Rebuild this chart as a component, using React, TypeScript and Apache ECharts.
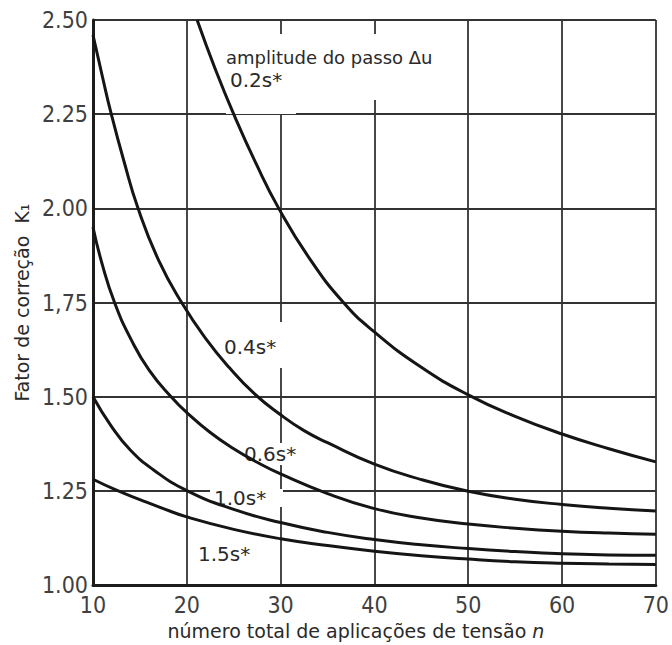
import React, { useEffect, useRef } from "react";
import * as echarts from "echarts";

// Axis ticks
const xTicks = [10, 20, 30, 40, 50, 60, 70];
const yTickLabels = ["1.00", "1.25", "1.50", "1,75", "2.00", "2.25", "2.50"];

// Correction factor K1 against total number of voltage applications n,
// one curve per step amplitude Δu
const step02: [number, number][] = [
  [21.1, 2.5], [23.0, 2.372], [25.0, 2.25], [27.4, 2.118], [29.8, 2.0],
  [33.0, 1.87], [36.7, 1.75], [40, 1.672], [45, 1.578], [50, 1.505],
  [55, 1.448], [60, 1.401], [65, 1.362], [70, 1.327],
];
const step04: [number, number][] = [
  [10, 2.46], [11, 2.35], [11.95, 2.25], [13.3, 2.125], [14.8, 2.0],
  [17, 1.862], [19.5, 1.748], [22, 1.655], [24.5, 1.578], [27.2, 1.508],
  [30, 1.452], [32.5, 1.41], [35, 1.378], [40, 1.321], [45, 1.28],
  [50, 1.249], [55, 1.228], [60, 1.214], [65, 1.204], [70, 1.197],
];
const step06: [number, number][] = [
  [10, 1.95], [11, 1.85], [12.3, 1.75], [14, 1.655], [16, 1.57],
  [18.5, 1.495], [20, 1.458], [22.5, 1.405], [25, 1.362], [27.5, 1.326],
  [30, 1.295], [35, 1.243], [40, 1.203], [45, 1.178], [50, 1.162],
  [55, 1.151], [60, 1.143], [65, 1.138], [70, 1.135],
];
const step10: [number, number][] = [
  [10, 1.5], [12, 1.42], [14, 1.358], [16.5, 1.305], [20, 1.251],
  [25, 1.201], [30, 1.166], [35, 1.14], [40, 1.121], [45, 1.107],
  [50, 1.097], [55, 1.089], [60, 1.083], [65, 1.08], [70, 1.079],
];
const step15: [number, number][] = [
  [10, 1.281], [12.5, 1.252], [15, 1.227], [17.5, 1.203], [20, 1.181],
  [25, 1.148], [30, 1.123], [35, 1.105], [40, 1.09], [45, 1.078],
  [50, 1.069], [55, 1.062], [60, 1.058], [65, 1.056], [70, 1.055],
];

const curveNames = ["0.2s*", "0.4s*", "0.6s*", "1.0s*", "1.5s*"];
const curveData = [step02, step04, step06, step10, step15];

const SANS = '"DejaVu Sans", "Liberation Sans", sans-serif';
const NARROW = '"Liberation Sans Narrow", "DejaVu Sans Condensed", "Liberation Sans", sans-serif';
const INK = "#1c1c1c";
const GRID = "#333333";

export default function App() {
  const ref = useRef<HTMLDivElement>(null);

  useEffect(() => {
    document.body.style.margin = "0";
    const chart = echarts.init(ref.current!, null, { renderer: "svg" });

    const whiteBox = (x: number, y: number, w: number, h: number) => ({
      type: "rect",
      z: 1,
      silent: true,
      shape: { x, y, width: w, height: h },
      style: { fill: "#ffffff" },
    });
    const curveText = (text: string, x: number, y: number) => ({
      type: "text",
      z: 1,
      silent: true,
      x,
      y,
      style: {
        text,
        fontFamily: SANS,
        fontSize: 20,
        fill: "#2a2a2a",
        verticalAlign: "middle",
        backgroundColor: "#ffffff",
        padding: [1, 2, 1, 2],
      },
    });

    chart.setOption({
      animation: false,
      backgroundColor: "#ffffff",
      grid: { left: 93, right: 14, top: 20, bottom: 53, containLabel: false },
      xAxis: {
        type: "value",
        min: 10,
        max: 70,
        interval: 10,
        name: "número total de aplicações de tensão {it|n}",
        nameLocation: "middle",
        nameGap: 25,
        nameTextStyle: {
          fontFamily: SANS,
          fontSize: 19,
          color: "#2a2a2a",
          verticalAlign: "top",
          padding: [0, 37, 0, 0],
          rich: {
            it: { fontFamily: SANS, fontSize: 19, fontStyle: "italic", color: "#2a2a2a" },
          },
        },
        axisLine: { show: true, lineStyle: { color: INK, width: 3 } },
        axisTick: { show: false },
        axisLabel: {
          margin: 8,
          fontFamily: NARROW,
          fontSize: 23,
          color: "#404040",
          formatter: (v: number) => (xTicks.includes(v) ? String(v) : ""),
        },
        splitLine: { show: true, lineStyle: { color: GRID, width: 1.8 } },
      },
      yAxis: {
        type: "value",
        min: 1,
        max: 2.5,
        interval: 0.25,
        name: "Fator de correção  K₁",
        nameLocation: "middle",
        nameGap: 58,
        nameTextStyle: { fontFamily: SANS, fontSize: 19, color: "#2a2a2a" },
        axisLine: { show: true, lineStyle: { color: INK, width: 3 } },
        axisTick: { show: false },
        axisLabel: {
          margin: 5,
          fontFamily: NARROW,
          fontSize: 23,
          color: "#404040",
          formatter: (v: number) => yTickLabels[Math.round((v - 1) / 0.25)] ?? "",
        },
        splitLine: { show: true, lineStyle: { color: GRID, width: 1.8 } },
      },
      graphic: [
        whiteBox(232, 34, 213, 66),
        whiteBox(226, 66, 70, 48),
        whiteBox(221, 322, 64, 46),
        whiteBox(210, 489, 73, 18),
        {
          type: "text",
          z: 1,
          silent: true,
          x: 226,
          y: 57,
          style: {
            text: "amplitude do passo Δu",
            fontFamily: SANS,
            fontSize: 18,
            fill: "#2a2a2a",
            verticalAlign: "middle",
          },
        },
        curveText(curveNames[0], 228, 80),
        curveText(curveNames[1], 222, 347),
        curveText(curveNames[2], 242, 454),
        curveText(curveNames[3], 212, 498),
        curveText(curveNames[4], 196, 554),
      ],
      series: curveData.map((data, i) => ({
        name: curveNames[i],
        type: "line",
        data,
        smooth: 0.5,
        showSymbol: false,
        z: 2,
        lineStyle: { color: "#151515", width: 3 },
      })),
    });

    return () => chart.dispose();
  }, []);

  return <div ref={ref} style={{ width: 672, height: 645 }} />;
}
